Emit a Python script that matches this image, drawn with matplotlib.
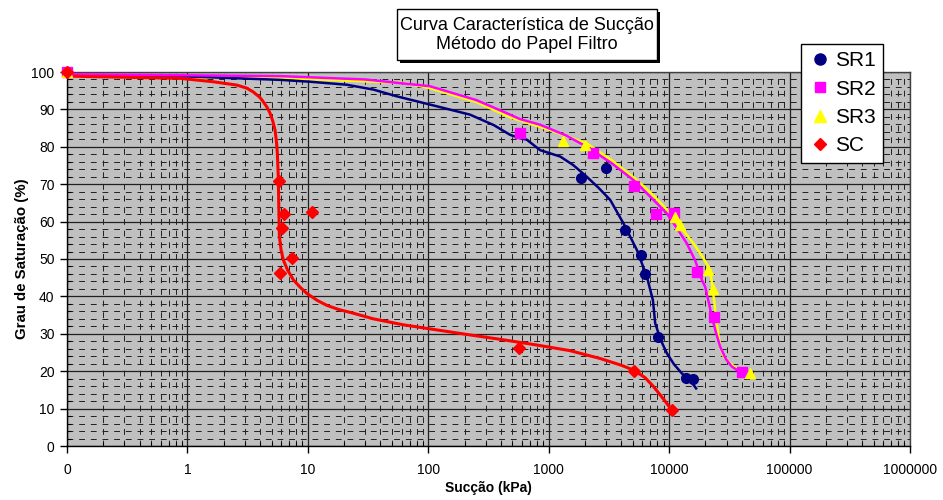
import matplotlib
matplotlib.use("Agg")
import matplotlib.pyplot as plt
from matplotlib.patches import Rectangle
from matplotlib.ticker import LogLocator, FixedLocator, MultipleLocator, FixedFormatter
from matplotlib.lines import Line2D

plt.rcParams['font.family'] = ['Liberation Sans', 'DejaVu Sans']

# measured points (x = 0 drawn at the left edge, 0.1)
sr1_x = [0.1, 1860, 3000, 4310, 5820, 6320, 8150, 13800, 15700]
sr1_y = [100, 71.7, 74.2, 57.8, 51.2, 46.0, 29.2, 18.3, 17.9]

sr2_x = [0.1, 580, 2320, 5120, 7800, 11000, 17000, 23700, 40200]
sr2_y = [100, 83.6, 78.4, 69.5, 62.0, 62.2, 46.6, 34.6, 19.9]

sr3_x = [0.1, 1325, 2000, 11250, 12200, 21200, 23000, 47100]
sr3_y = [100, 81.6, 80.5, 61.3, 59.1, 47.1, 41.9, 19.4]

sc_x = [0.1, 5.77, 6.34, 10.9, 6.14, 7.43, 5.87, 568, 5060, 10500]
sc_y = [100, 70.9, 62.0, 62.5, 58.2, 50.3, 46.3, 26.2, 20.1, 9.6]

# fitted curves
sr1_fit_x = [0.1, 1, 5.9, 10.4, 21, 35, 54.7, 103, 222, 350, 478, 578, 658, 849, 1245, 1600,
             2070, 2600, 3240, 4180, 5400, 6530, 7330, 7660, 8500, 9570, 11000, 12760,
             14930, 16750]
sr1_fit_y = [99.0, 98.8, 97.9, 97.4, 96.6, 95.3, 93.5, 91.3, 88.6, 85.8, 83.2, 82.3, 81.9,
             79.1, 77.4, 75.1, 72.0, 69.0, 65.8, 59.5, 52.4, 45.3, 39.0, 32.8, 28.4, 24.8,
             21.8, 19.4, 17.6, 15.4]

sr2_fit_x = [0.1, 5.9, 30, 103, 250, 478, 578, 849, 1400, 2070, 3300, 5060, 7000, 9570,
             12000, 14000, 16500, 18700, 19900, 21300, 22600, 24500, 26500, 29500, 33200,
             38000, 44200]
sr2_fit_y = [99.4, 98.9, 98.0, 96.2, 92.5, 88.6, 87.4, 85.9, 83.0, 80.0, 75.7, 71.1, 66.6,
             62.2, 57.5, 54.2, 49.5, 44.4, 42.6, 38.5, 34.6, 30.3, 26.6, 23.3, 21.2, 20.0,
             19.4]

sr3_fit_x = [0.1, 5.9, 62, 103, 250, 478, 1000, 2070, 3300, 5400, 7500, 10200, 12800,
             15900, 19000, 21900, 23000, 24000, 25000, 26500, 28500, 32100, 38000, 47100]
sr3_fit_y = [98.8, 98.4, 97.1, 95.7, 92.0, 87.9, 84.6, 80.9, 76.5, 71.1, 66.8, 62.2, 58.0,
             54.2, 50.5, 47.1, 42.0, 37.0, 32.0, 26.6, 23.8, 22.1, 20.3, 19.0]

sc_fit_x = [0.1, 0.87, 1.63, 2.57, 3.1, 3.51, 4.0, 4.25, 4.6, 4.85, 5.1, 5.34, 5.5, 5.58,
            5.68, 5.80, 6.0, 6.26, 6.8, 7.59, 8.6, 9.8, 12, 14.4, 18, 23.9, 35, 62.1, 120,
            222, 400, 796, 1500, 2670, 4000, 5060, 6300, 7410, 9000, 10520]
sc_fit_y = [98.9, 98.3, 97.4, 96.5, 95.7, 94.7, 93.2, 92.1, 90.5, 89.0, 87.0, 84.5, 81.0,
            78.3, 72.0, 56.0, 52.3, 49.7, 47.0, 44.4, 42.5, 40.8, 38.9, 37.6, 36.5, 35.5,
            34.0, 32.4, 31.0, 29.7, 28.5, 27.0, 25.5, 23.4, 21.6, 20.3, 18.3, 15.9, 12.5,
            9.6]

x_ticks = [0.1, 1, 10, 100, 1000, 10000, 100000, 1000000]
x_labels = ['0', '1', '10', '100', '1000', '10000', '100000', '1000000']

fig = plt.figure(figsize=(9.43, 5.0), dpi=100)
ax = fig.add_axes([67 / 943, 54 / 500, 843 / 943, 374 / 500])
ax.set_facecolor('#C0C0C0')

ax.set_xscale('log')
ax.set_xlim(0.1, 1000000)
ax.set_ylim(0, 100)

ax.xaxis.set_major_locator(FixedLocator(x_ticks))
ax.xaxis.set_major_formatter(FixedFormatter(x_labels))
ax.xaxis.set_minor_locator(LogLocator(base=10, subs=range(2, 10), numticks=20))
ax.xaxis.set_minor_formatter(plt.NullFormatter())
ax.yaxis.set_major_locator(MultipleLocator(10))
ax.yaxis.set_minor_locator(MultipleLocator(2))

ax.grid(which='major', color='#202020', linewidth=0.9, linestyle='-')
ax.grid(which='minor', color='#202020', linewidth=0.7, linestyle=(0, (6, 6)))
ax.set_axisbelow(True)

ax.tick_params(which='major', direction='out', length=5, width=1, labelsize=10, pad=7)
ax.tick_params(which='minor', direction='in', length=3, width=0.8)
ax.tick_params(axis='y', which='major', pad=4)
for s in ax.spines.values():
    s.set_color('#404040')
    s.set_linewidth(1)
ax.spines['bottom'].set_color('black')
ax.spines['left'].set_color('black')

ax.plot(sr1_fit_x, sr1_fit_y, color='#000080', lw=1.8, zorder=3)
ax.plot(sr2_fit_x, sr2_fit_y, color='#FF00FF', lw=1.8, zorder=3)
ax.plot(sr3_fit_x, sr3_fit_y, color='#FFFF00', lw=1.8, zorder=2.9)
ax.plot(sc_fit_x, sc_fit_y, color='#FF0000', lw=2.2, zorder=3)

ax.plot(sr1_x, sr1_y, 'o', color='#000080', ms=7, ls='none', zorder=4, clip_on=False)
ax.plot(sr2_x, sr2_y, 's', color='#FF00FF', ms=7, ls='none', zorder=4, clip_on=False)
ax.plot(sr3_x, sr3_y, '^', color='#FFFF00', ms=7, ls='none', zorder=4, clip_on=False)
ax.plot(sc_x, sc_y, 'D', color='#FF0000', ms=6, ls='none', zorder=4, clip_on=False)

ax.set_xlabel('Sucção (kPa)', fontsize=10, fontweight='bold', labelpad=3)
ax.set_ylabel('Grau de Saturação (%)', fontsize=10.8, fontweight='bold', labelpad=2)

handles = [
    Line2D([], [], marker='o', color='#000080', ls='none', ms=8),
    Line2D([], [], marker='s', color='#FF00FF', ls='none', ms=7.5),
    Line2D([], [], marker='^', color='#FFFF00', ls='none', ms=8),
    Line2D([], [], marker='D', color='#FF0000', ls='none', ms=6.5),
]
leg = fig.legend(handles, ['SR1', 'SR2', 'SR3', 'SC'], loc='upper left',
                 bbox_to_anchor=(801 / 943, 1 - 44 / 500), fontsize=15,
                 frameon=True, fancybox=False, edgecolor='black', framealpha=1,
                 borderpad=0.35, labelspacing=0.45, handletextpad=0.2,
                 handlelength=1.1, borderaxespad=0)
leg.get_frame().set_linewidth(1)

# title box with shadow
fig.patches.append(Rectangle((400 / 943, 1 - 63 / 500), 260 / 943, 51 / 500,
                             transform=fig.transFigure, facecolor='black',
                             edgecolor='none', zorder=5))
fig.patches.append(Rectangle((397 / 943, 1 - 60 / 500), 260 / 943, 51 / 500,
                             transform=fig.transFigure, facecolor='white',
                             edgecolor='black', linewidth=1, zorder=6))
fig.text(527 / 943, 1 - 35 / 500, 'Curva Característica de Sucção\nMétodo do Papel Filtro',
         ha='center', va='center', fontsize=13, linespacing=1.2, zorder=7)

fig.savefig('out.png', dpi=100)
